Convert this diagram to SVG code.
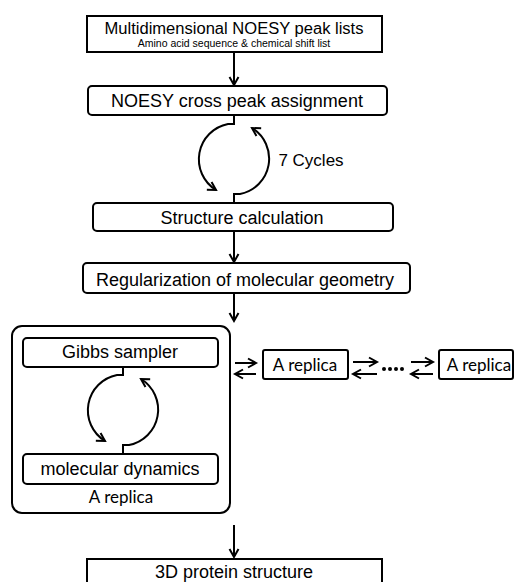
<svg xmlns="http://www.w3.org/2000/svg" width="515" height="582" viewBox="0 0 515 582">
<style>
.box{fill:#fff;stroke:#000;stroke-width:2}
.ln{fill:none;stroke:#000;stroke-width:2}
.t{font-family:"Liberation Sans",Arial,sans-serif;fill:#000;text-anchor:middle}
.c{font-family:Lato,"Open Sans",sans-serif;fill:#000;text-anchor:middle;font-size:17px}
</style>
<defs>
<marker id="ah" markerUnits="userSpaceOnUse" markerWidth="12" markerHeight="12" refX="9" refY="5" orient="auto" overflow="visible">
<path d="M1,0.5 L9,5 L1,9.5" fill="none" stroke="#000" stroke-width="2"/>
</marker>
</defs>
<rect width="515" height="582" fill="#fff"/>
<g id="n1">
<rect class="box" x="87" y="16" width="295" height="36"/>
<text class="t" x="234" y="34" font-size="16" textLength="259" lengthAdjust="spacingAndGlyphs">Multidimensional NOESY peak lists</text>
<text class="t" x="234" y="47" font-size="10.5">Amino acid sequence &amp; chemical shift list</text>
</g>
<g id="n2">
<rect class="box" x="88" y="86" width="299" height="29" rx="4"/>
<text class="t" x="237" y="107" font-size="18">NOESY cross peak assignment</text>
</g>
<text class="t" x="311" y="166" font-size="17">7 Cycles</text>
<g id="n3">
<rect class="box" x="93" y="203" width="300" height="28" rx="4"/>
<text class="t" x="242" y="224" font-size="18">Structure calculation</text>
</g>
<g id="n4">
<rect class="box" x="83" y="263" width="327" height="30" rx="4"/>
<text class="t" x="245" y="286" font-size="18">Regularization of molecular geometry</text>
</g>
<g id="replica-main">
<rect class="box" x="12" y="326" width="218" height="187" rx="10"/>
<text class="c" x="121" y="503">A replica</text>
</g>
<g id="gibbs">
<rect class="box" x="23" y="338" width="195" height="29" rx="4"/>
<text class="t" x="120" y="358" font-size="18">Gibbs sampler</text>
</g>
<g id="md">
<rect class="box" x="23" y="454" width="195" height="30" rx="4"/>
<text class="t" x="120" y="475" font-size="18">molecular dynamics</text>
</g>
<g id="replica2">
<rect class="box" x="263" y="350" width="85" height="29" rx="2"/>
<text class="c" x="305" y="371">A replica</text>
</g>
<g id="replica3">
<rect class="box" x="439" y="350" width="74" height="29" rx="2"/>
<text class="c" x="479" y="371">A replica</text>
</g>
<g id="final">
<rect class="box" x="87" y="559" width="295" height="30"/>
<text class="t" x="234" y="578" font-size="18">3D protein structure</text>
</g>
<g id="connectors">
<line class="ln" x1="234" y1="52" x2="234" y2="85" marker-end="url(#ah)"/>
<path class="ln" d="M234,115 V124 H228 A36,36 0 0 0 216,190" marker-end="url(#ah)"/>
<path class="ln" d="M234,203 V194 H240 A36,36 0 0 0 252,128" marker-end="url(#ah)"/>
<line class="ln" x1="234" y1="231" x2="234" y2="262" marker-end="url(#ah)"/>
<line class="ln" x1="234" y1="293" x2="234" y2="321" marker-end="url(#ah)"/>
<path class="ln" d="M123,367 V375 H117 A36,36 0 0 0 105,441" marker-end="url(#ah)"/>
<path class="ln" d="M123,454 V445 H129 A36,36 0 0 0 141,379" marker-end="url(#ah)"/>
<line class="ln" x1="235" y1="363" x2="256" y2="363" marker-end="url(#ah)"/>
<line class="ln" x1="256" y1="374" x2="235" y2="374" marker-end="url(#ah)"/>
<line class="ln" x1="353" y1="362" x2="377" y2="362" marker-end="url(#ah)"/>
<line class="ln" x1="377" y1="374" x2="353" y2="374" marker-end="url(#ah)"/>
<line class="ln" x1="411" y1="362" x2="433" y2="362" marker-end="url(#ah)"/>
<line class="ln" x1="433" y1="374" x2="411" y2="374" marker-end="url(#ah)"/>
<g fill="#000">
<circle cx="384" cy="369" r="2"/><circle cx="390" cy="369" r="2"/><circle cx="396" cy="369" r="2"/><circle cx="402" cy="369" r="2"/>
</g>
<line class="ln" x1="234" y1="525" x2="234" y2="557" marker-end="url(#ah)"/>
</g>
</svg>
